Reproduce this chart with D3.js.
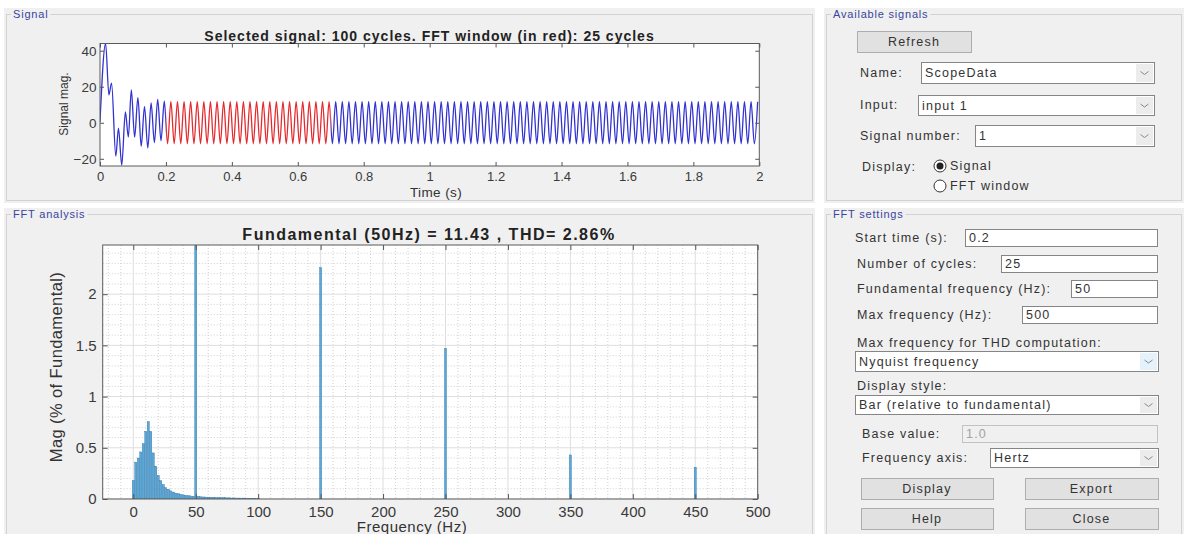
<!DOCTYPE html>
<html><head><meta charset="utf-8">
<script src="https://cdn.jsdelivr.net/npm/d3@7"></script>
<style>
html,body{margin:0;padding:0;background:#fff;}
svg{display:block;font-family:"Liberation Sans",Arial,Helvetica,sans-serif;}
</style></head><body>
<svg id="c" width="1184" height="534"></svg>
<script>
// ---------------- DATA ----------------
const signalTitle = "Selected signal: 100 cycles. FFT window (in red): 25 cycles";
const fftTitle = "Fundamental (50Hz) = 11.43 , THD= 2.86%";
const timeTicks = [0, 0.2, 0.4, 0.6, 0.8, 1, 1.2, 1.4, 1.6, 1.8, 2];
const signalTicks = [-20, 0, 20, 40];
const fftWindow = [0.2, 0.7];

// transient extrema (time s, value)
const transientT = [0, 0.017, 0.027, 0.035, 0.048, 0.056, 0.066, 0.077, 0.086, 0.095, 0.105, 0.115, 0.125, 0.135, 0.145, 0.155, 0.165, 0.175, 0.185, 0.195];
const transientV = [0.5, 44, 15.5, 22, -18.5, -3, -23.5, 6, -8, 18.2, -8, 14, -13, 9, -14, 11, -11, 13, -10, 12];

// steady-state cycles from 0.2 s to 2 s: trough and peak of each cycle
const steadyTrough = [
 -11.7,-11.7,-11.7,-11.7,-11.7,-11.7,-11.7,-11.7,-11.7,-11.7,-11.7,-11.7,-11.7,-11.7,-11.7,
 -11.7,-11.7,-11.7,-11.7,-11.7,-11.7,-11.7,-11.7,-11.7,-11.7,-11.7,-11.7,-11.7,-11.7,-11.7,
 -11.7,-11.7,-11.7,-11.7,-11.7,-11.7,-11.7,-11.7,-11.7,-11.7,-11.7,-11.7,-11.7,-11.7,-11.7,
 -11.7,-11.7,-11.7,-11.7,-11.7,-11.7,-11.7,-11.7,-11.7,-11.7,-11.7,-11.7,-11.7,-11.7,-11.7,
 -11.7,-11.7,-11.7,-11.7,-11.7,-11.7,-11.7,-11.7,-11.7,-11.7,-11.7,-11.7,-11.7,-11.7,-11.7,
 -11.7,-11.7,-11.7,-11.7,-11.7,-11.7,-11.7,-11.7,-11.7,-11.7,-11.7,-11.7,-11.7,-11.7,-11.7];
const steadyPeak = [
 11.7,11.7,11.7,11.7,11.7,11.7,11.7,11.7,11.7,11.7,11.7,11.7,11.7,11.7,11.7,
 11.7,11.7,11.7,11.7,11.7,11.7,11.7,11.7,11.7,11.7,11.7,11.7,11.7,11.7,11.7,
 11.7,11.7,11.7,11.7,11.7,11.7,11.7,11.7,11.7,11.7,11.7,11.7,11.7,11.7,11.7,
 11.7,11.7,11.7,11.7,11.7,11.7,11.7,11.7,11.7,11.7,11.7,11.7,11.7,11.7,11.7,
 11.7,11.7,11.7,11.7,11.7,11.7,11.7,11.7,11.7,11.7,11.7,11.7,11.7,11.7,11.7,
 11.7,11.7,11.7,11.7,11.7,11.7,11.7,11.7,11.7,11.7,11.7,11.7,11.7,11.7,11.7];

// FFT spectrum (Hz, % of fundamental)
const freqTicks = [0, 50, 100, 150, 200, 250, 300, 350, 400, 450, 500];
const magTicks = [0, 0.5, 1, 1.5, 2];
const spectrumHz = [0,2,4,6,8,10,12,14,16,18,20,22,24,26,28,30,32,34,36,38,40,42,44,46,48,
  50,
  52,54,56,58,60,62,64,66,68,70,72,74,76,78,80,82,84,86,88,90,92,94,96,98,100,
  150,250,350,450];
const spectrumMag = [0.18,0.36,0.40,0.46,0.54,0.66,0.755,0.66,0.45,0.32,0.23,0.18,0.14,0.11,0.095,0.08,0.068,0.058,0.052,0.046,0.04,0.036,0.032,0.03,0.027,
  100,
  0.024,0.022,0.02,0.019,0.018,0.017,0.016,0.015,0.014,0.013,0.013,0.012,0.011,0.011,0.010,0.010,0.009,0.009,0.009,0.008,0.008,0.008,0.007,0.007,0.007,
  2.26,1.47,0.43,0.31];

// ---------------- DRAW ----------------
const svg = d3.select("#c");
const TXT = "#333";

function panel(x, y, w, h, title) {
  svg.append("rect").attr("x", x).attr("y", y).attr("width", w).attr("height", h).attr("fill", "#f0f0f0");
  svg.append("rect").attr("x", x + 2.5).attr("y", y + 6.5).attr("width", w - 5).attr("height", h - 9)
    .attr("fill", "none").attr("stroke", "#d2d2d2");
  const t = svg.append("text").attr("x", x + 9).attr("y", y + 10).text(title)
    .attr("font-size", 11).attr("letter-spacing", 0.8).attr("fill", "#38449e");
  const bb = t.node().getBBox();
  svg.insert("rect", () => t.node()).attr("x", bb.x - 2).attr("y", y + 4).attr("width", bb.width + 4).attr("height", 6).attr("fill", "#f0f0f0");
}
panel(4, 8, 811, 195, "Signal");
panel(4, 208, 811, 330, "FFT analysis");
panel(824, 8, 360, 195, "Available signals");
panel(824, 208, 360, 330, "FFT settings");

function styleAxis(g, fs) {
  g.select(".domain").remove();
  g.selectAll("line").attr("stroke", "#555");
  g.selectAll("text").attr("fill", "#3a3a3a").attr("font-size", fs).attr("font-family", '"Liberation Sans",Arial,sans-serif');
}

// ---- Signal axes ----
const sx = d3.scaleLinear().domain([0, 2]).range([100, 759.3]);
const sy = d3.scaleLinear().domain([-24, 44]).range([166, 43.5]);
const gS = svg.append("g");
gS.append("rect").attr("x", sx.range()[0]).attr("y", sy.range()[1]).attr("width", sx.range()[1] - sx.range()[0])
  .attr("height", sy.range()[0] - sy.range()[1]).attr("fill", "#fff");
svg.append("clipPath").attr("id", "clipS").append("rect")
  .attr("x", sx.range()[0]).attr("y", sy.range()[1]).attr("width", sx.range()[1] - sx.range()[0]).attr("height", sy.range()[0] - sy.range()[1]);
svg.append("clipPath").attr("id", "clipRed").append("rect")
  .attr("x", sx(fftWindow[0])).attr("y", sy.range()[1]).attr("width", sx(fftWindow[1]) - sx(fftWindow[0])).attr("height", sy.range()[0] - sy.range()[1]);

const signalPts = transientT.map((t, i) => ({ t, v: transientV[i] }));
steadyTrough.forEach((v, k) => {
  signalPts.push({ t: 0.205 + 0.02 * k, v });
  signalPts.push({ t: 0.215 + 0.02 * k, v: steadyPeak[k] });
});
const line = d3.line().x(d => sx(d.t)).y(d => sy(d.v)).curve(d3.curveMonotoneX);
gS.append("path").attr("d", line(signalPts)).attr("fill", "none").attr("stroke", "#3232cf").attr("stroke-width", 1.3).attr("clip-path", "url(#clipS)");
gS.append("rect").attr("x", sx(fftWindow[0])).attr("y", sy.range()[1]).attr("width", sx(fftWindow[1]) - sx(fftWindow[0])).attr("height", sy.range()[0] - sy.range()[1]).attr("fill", "#fff");
gS.append("path").attr("d", line(signalPts)).attr("fill", "none").attr("stroke", "#e42a2e").attr("stroke-width", 1.3).attr("clip-path", "url(#clipRed)");

const fmt = d3.format("~g");
styleAxis(gS.append("g").attr("transform", `translate(0,${sy.range()[0]})`).call(d3.axisBottom(sx).tickValues(timeTicks).tickSize(-4).tickPadding(6).tickFormat(fmt)), 13);
styleAxis(gS.append("g").attr("transform", `translate(0,${sy.range()[1]})`).call(d3.axisTop(sx).tickValues(timeTicks).tickSize(-4).tickFormat("")), 13);
styleAxis(gS.append("g").attr("transform", `translate(${sx.range()[0]},0)`).call(d3.axisLeft(sy).tickValues(signalTicks).tickSize(-4).tickPadding(3.5).tickFormat(fmt)), 13.5);
styleAxis(gS.append("g").attr("transform", `translate(${sx.range()[1]},0)`).call(d3.axisRight(sy).tickValues(signalTicks).tickSize(-4).tickFormat("")), 13);
gS.append("rect").attr("x", sx.range()[0]).attr("y", sy.range()[1]).attr("width", sx.range()[1] - sx.range()[0])
  .attr("height", sy.range()[0] - sy.range()[1]).attr("fill", "none").attr("stroke", "#5a5a5a").attr("stroke-width", 1);
gS.append("text").attr("x", 429.5).attr("y", 41).attr("text-anchor", "middle").attr("font-size", 14).attr("font-weight", "bold")
  .attr("letter-spacing", 1.0).attr("fill", "#222").text(signalTitle);
gS.append("text").attr("x", 436).attr("y", 197).attr("text-anchor", "middle").attr("font-size", 13.5).attr("fill", "#333").attr("letter-spacing", 0.4).text("Time (s)");
gS.append("text").attr("transform", "translate(68,104) rotate(-90)").attr("text-anchor", "middle").attr("font-size", 12).attr("fill", "#333").text("Signal mag.");

// ---- FFT axes ----
const fx = d3.scaleLinear().domain([-24.5, 500]).range([102.7, 757.7]);
const fy = d3.scaleLinear().domain([0, 2.48]).range([499, 245]);
const gF = svg.append("g");
const fw = fx.range()[1] - fx.range()[0], fh = fy.range()[0] - fy.range()[1];
gF.append("rect").attr("x", fx.range()[0]).attr("y", fy.range()[1]).attr("width", fw).attr("height", fh).attr("fill", "#fff");
svg.append("clipPath").attr("id", "clipF").append("rect").attr("x", fx.range()[0]).attr("y", fy.range()[1]).attr("width", fw).attr("height", fh);

const minorX = d3.range(-20, 501, 10).filter(v => v % 50 !== 0);
const minorY = d3.range(1, 25).map(i => i / 10).filter(v => Math.abs(v * 2 - Math.round(v * 2)) > 1e-6);
const grid = gF.append("g").attr("clip-path", "url(#clipF)");
grid.selectAll("line.mx").data(minorX).join("line").attr("x1", d => fx(d)).attr("x2", d => fx(d)).attr("y1", fy.range()[1]).attr("y2", fy.range()[0])
  .attr("stroke", "#c4c4c4").attr("stroke-dasharray", "1,2").attr("stroke-width", 0.8);
grid.selectAll("line.my").data(minorY).join("line").attr("y1", d => fy(d)).attr("y2", d => fy(d)).attr("x1", fx.range()[0]).attr("x2", fx.range()[1])
  .attr("stroke", "#c4c4c4").attr("stroke-dasharray", "1,2").attr("stroke-width", 0.8);
grid.selectAll("line.Mx").data(freqTicks).join("line").attr("x1", d => fx(d)).attr("x2", d => fx(d)).attr("y1", fy.range()[1]).attr("y2", fy.range()[0])
  .attr("stroke", "#dedede").attr("stroke-width", 1);
grid.selectAll("line.My").data(magTicks).join("line").attr("y1", d => fy(d)).attr("y2", d => fy(d)).attr("x1", fx.range()[0]).attr("x2", fx.range()[1])
  .attr("stroke", "#dedede").attr("stroke-width", 1);

const spectrum = spectrumHz.map((f, i) => ({ f, m: spectrumMag[i] }));
const bw = fx(1.6) - fx(0);
gF.append("g").attr("clip-path", "url(#clipF)").selectAll("rect").data(spectrum).join("rect")
  .attr("x", d => fx(d.f) - bw / 2).attr("width", bw)
  .attr("y", d => fy(d.m)).attr("height", d => fy(0) - fy(d.m))
  .attr("fill", "#58a8dc").attr("stroke", "#2f6e99").attr("stroke-width", 0.4);

styleAxis(gF.append("g").attr("transform", `translate(0,${fy.range()[0]})`).call(d3.axisBottom(fx).tickValues(freqTicks).tickSize(-5).tickPadding(7).tickFormat(fmt)), 15);
styleAxis(gF.append("g").attr("transform", `translate(0,${fy.range()[1]})`).call(d3.axisTop(fx).tickValues(freqTicks).tickSize(-5).tickFormat("")), 15);
styleAxis(gF.append("g").attr("transform", `translate(${fx.range()[0]},0)`).call(d3.axisLeft(fy).tickValues(magTicks).tickSize(-5).tickPadding(6).tickFormat(fmt)), 15);
styleAxis(gF.append("g").attr("transform", `translate(${fx.range()[1]},0)`).call(d3.axisRight(fy).tickValues(magTicks).tickSize(-5).tickFormat("")), 15);
gF.append("rect").attr("x", fx.range()[0]).attr("y", fy.range()[1]).attr("width", fw).attr("height", fh)
  .attr("fill", "none").attr("stroke", "#5a5a5a").attr("stroke-width", 1);
gF.append("text").attr("x", 429).attr("y", 240).attr("text-anchor", "middle").attr("font-size", 16).attr("font-weight", "bold")
  .attr("letter-spacing", 1.5).attr("fill", "#222").text(fftTitle);
gF.append("text").attr("x", 412).attr("y", 532).attr("text-anchor", "middle").attr("font-size", 15).attr("letter-spacing", 0.5).attr("fill", "#333").text("Frequency (Hz)");
gF.append("text").attr("transform", "translate(62,367) rotate(-90)").attr("text-anchor", "middle").attr("font-size", 16.5).attr("letter-spacing", 0.4).attr("fill", "#333").text("Mag (% of Fundamental)");

// ---- UI controls ----
function label(x, yc, txt, fill, anchor) {
  return svg.append("text").attr("x", x).attr("y", yc).attr("dy", "0.35em").text(txt)
    .attr("font-size", 12.5).attr("letter-spacing", 1.2).attr("fill", fill || TXT).attr("text-anchor", anchor || "start");
}
function editBox(x, y, w, h, txt, disabled) {
  svg.append("rect").attr("x", x + 0.5).attr("y", y + 0.5).attr("width", w).attr("height", h)
    .attr("fill", disabled ? "#f0f0f0" : "#fff").attr("stroke", disabled ? "#c2c2c2" : "#858585");
  label(x + 4, y + h / 2 + 0.5, txt, disabled ? "#a3a3a3" : TXT);
}
function dropdown(x, y, w, h, txt, arrowFill) {
  editBox(x, y, w, h, txt, false);
  const ax = x + w - 18;
  svg.append("rect").attr("x", ax).attr("y", y + 2).attr("width", 17).attr("height", h - 3).attr("fill", arrowFill || "#ececec");
  const cx = ax + 8.5, cy = y + h / 2 + 1;
  svg.append("path").attr("d", `M${cx - 4},${cy - 2} L${cx},${cy + 1} L${cx + 4},${cy - 2}`).attr("fill", "none").attr("stroke", "#888").attr("stroke-width", 1);
}
function button(x, y, w, h, txt) {
  svg.append("rect").attr("x", x + 0.5).attr("y", y + 0.5).attr("width", w).attr("height", h).attr("fill", "#e1e1e1").attr("stroke", "#adadad");
  label(x + w / 2, y + h / 2 + 0.5, txt, TXT, "middle");
}
function radio(cx, cy, checked) {
  svg.append("circle").attr("cx", cx).attr("cy", cy).attr("r", 6).attr("fill", "#fff").attr("stroke", "#333").attr("stroke-width", 1);
  if (checked) svg.append("circle").attr("cx", cx).attr("cy", cy).attr("r", 3.5).attr("fill", "#222");
}

// Available signals
button(857, 31, 114, 21, "Refresh");
label(860, 73, "Name:");
dropdown(921, 62, 233, 21, "ScopeData");
label(860, 105, "Input:");
dropdown(918, 95, 236, 20, "input 1");
label(860, 136, "Signal number:");
dropdown(975, 125, 179, 21, "1");
label(862, 167, "Display:");
radio(940, 166, true);
label(950, 166, "Signal");
radio(940, 186, false);
label(950, 186, "FFT window");

// FFT settings
label(855, 238, "Start time (s):");
editBox(965, 229, 192, 17, "0.2");
label(857, 264, "Number of cycles:");
editBox(1001, 255, 156, 17, "25");
label(857, 289, "Fundamental frequency (Hz):");
editBox(1071, 280, 86, 17, "50");
label(857, 315, "Max frequency (Hz):");
editBox(1022, 306, 135, 17, "500");
label(857, 343, "Max frequency for THD computation:");
dropdown(855, 351, 303, 20, "Nyquist frequency", "#e5f1fb");
label(857, 386, "Display style:");
dropdown(855, 395, 303, 19, "Bar (relative to fundamental)");
label(862, 434, "Base value:");
editBox(962, 425, 195, 17, "1.0", true);
label(862, 458, "Frequency axis:");
dropdown(990, 448, 168, 19, "Hertz");
button(861, 478, 132, 21, "Display");
button(1025, 478, 133, 21, "Export");
button(861, 508, 132, 21, "Help");
button(1025, 508, 133, 21, "Close");
</script></body></html>
